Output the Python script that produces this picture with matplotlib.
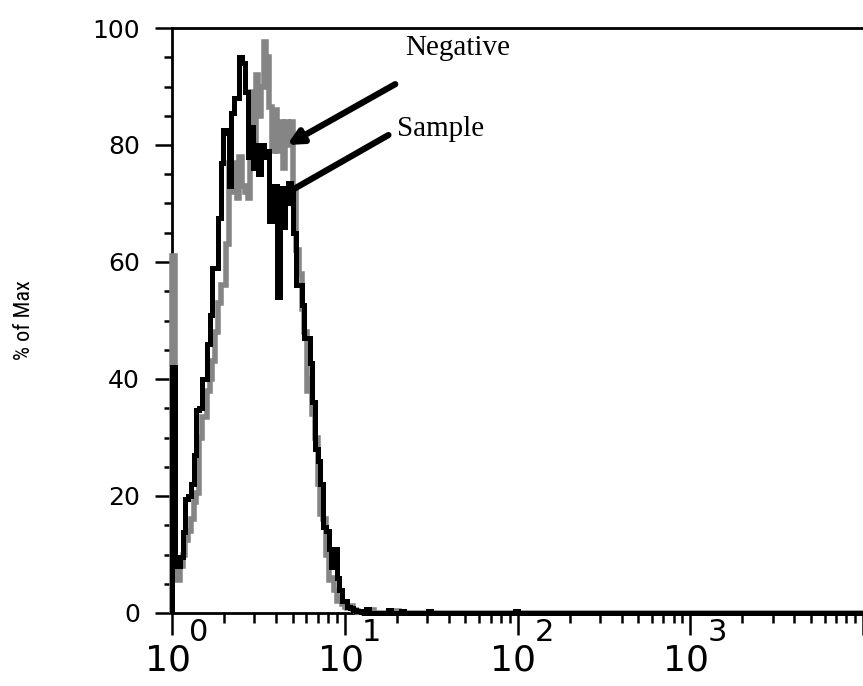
import matplotlib
matplotlib.use("Agg")
import matplotlib.pyplot as plt
import numpy as np
from matplotlib.ticker import FixedLocator, NullFormatter
from matplotlib import font_manager

# FACS-style channel scale: 256 channels over 4 decades
n_channels = 256
channels_per_decade = 64

# % of max per channel, starting at channel 0
sample_pct = [42, 9, 8, 9.5, 13.8, 19.5, 20, 22, 27, 34.7, 35, 40, 40, 46, 51, 59, 59,
              67.5, 77, 82.6, 82, 73, 85.5, 88, 88, 95, 94, 89, 78, 83, 76, 80, 75, 80,
              78, 79, 67, 73, 73, 54, 72.6, 66, 70, 73.5, 72, 65, 56, 56, 52.6, 47, 47,
              42.7, 36, 28, 26, 22, 14.7, 14, 11, 7.8, 11, 6, 4, 2, 2, 1, 0.8, 0.5,
              0.3, 0.3, 0.2]
negative_pct = [61, 7, 5.6, 8, 10, 12.5, 14, 16, 19, 20.5, 30, 33.5, 33.5, 38, 40, 43,
                48, 53, 56, 56, 63, 77, 72, 77, 71, 78, 73, 72, 71, 89, 78, 92, 85, 90,
                97.6, 95, 86.5, 79, 86, 79, 84, 76, 84, 80, 84, 72, 62, 58, 52, 48, 38,
                40, 34, 30, 22, 17, 16, 10, 5.6, 6, 4, 2, 2.5, 1.5, 1, 0.8, 1.2, 0.5,
                0.3, 0.2, 0.2]
# small isolated events further out
sample_tail_ch = [72, 80, 85, 95, 127]
sample_tail_pct = [0.6, 0.5, 0.4, 0.4, 0.4]
negative_tail_ch = [74, 83]
negative_tail_pct = [0.5, 0.4]

y_ticks = [0, 20, 40, 60, 80, 100]
x_decades = [0, 1, 2, 3]


def full(vals, tail_ch, tail_vals):
    arr = np.zeros(n_channels)
    arr[:len(vals)] = vals
    arr[tail_ch] = tail_vals
    return arr


edges = 10 ** (np.arange(n_channels + 1) / channels_per_decade)
sample = full(sample_pct, sample_tail_ch, sample_tail_pct)
negative = full(negative_pct, negative_tail_ch, negative_tail_pct)

# pick a condensed sans for the axis title if one is installed
names = {f.name for f in font_manager.fontManager.ttflist}
condensed = [n for n in ["Roboto Condensed", "Liberation Sans Narrow", "DejaVu Sans Condensed",
                         "Open Sans Condensed"] if n in names]
label_family = condensed[0] if condensed else "Liberation Sans"

fig = plt.figure(figsize=(8.63, 6.86), dpi=100)
ax = fig.add_axes([172 / 863, 1 - 613 / 686, 1 - 172 / 863, (613 - 28) / 686])

gray = ax.stairs(negative, edges, baseline=0, color="#858585", lw=4.0, clip_on=False, zorder=3)
black = ax.stairs(sample, edges, baseline=0, color="black", lw=3.6, clip_on=False, zorder=4)
for p in (gray, black):
    p.set_joinstyle("miter")
    p.set_capstyle("butt")

ax.set_xscale("log")
ax.set_xlim(1, 10 ** 4)
ax.set_ylim(0, 100)

for s in ["left", "top", "bottom"]:
    ax.spines[s].set_linewidth(2.0)
ax.spines["right"].set_visible(False)

ax.yaxis.set_major_locator(FixedLocator(y_ticks))
ax.yaxis.set_minor_locator(FixedLocator(np.arange(0, 101, 5)))
ax.tick_params(axis="y", which="major", direction="out", length=12, width=1.8, pad=11, labelsize=18)
ax.tick_params(axis="y", which="minor", direction="out", length=6, width=1.8)
for lab in ax.get_yticklabels():
    lab.set_family("DejaVu Sans")

major_x = [10 ** d for d in x_decades] + [10 ** 4]
minor_x = [m * 10 ** d for d in x_decades for m in range(2, 10)]
ax.xaxis.set_major_locator(FixedLocator(major_x))
ax.xaxis.set_minor_locator(FixedLocator(minor_x))
ax.xaxis.set_major_formatter(NullFormatter())
ax.xaxis.set_minor_formatter(NullFormatter())
ax.tick_params(axis="x", which="major", direction="out", length=16, width=1.8)
ax.tick_params(axis="x", which="minor", direction="out", length=7, width=1.8)

for d in x_decades:
    ax.annotate("10", xy=(10 ** d, 0), xycoords=("data", "axes fraction"),
                xytext=(13.5, -41.5), textcoords="offset points",
                ha="right", va="baseline", fontsize=26, family="DejaVu Sans",
                annotation_clip=False)
    ax.annotate(str(d), xy=(10 ** d, 0), xycoords=("data", "axes fraction"),
                xytext=(12.5, -20.5), textcoords="offset points",
                ha="left", va="baseline", fontsize=22, family="DejaVu Sans",
                annotation_clip=False)

fig.text(25 / 863, 1 - 320 / 686, "% of Max", rotation=90, ha="center", va="center",
         fontsize=16 if condensed else 14.5, family=label_family)

# annotations
ax.annotate("", xy=(4.64, 80), xytext=(19.6, 90.4),
            arrowprops=dict(arrowstyle="-|>", lw=4.5, color="black", mutation_scale=22,
                            shrinkA=0, shrinkB=0), zorder=6)
ax.annotate("", xy=(4.75, 72), xytext=(17.9, 81.7),
            arrowprops=dict(arrowstyle="-", lw=4.5, color="black",
                            shrinkA=0, shrinkB=0), zorder=6)
ax.text(22.4, 96.6, "Negative", ha="left", va="center", fontsize=21,
        family="Liberation Serif", zorder=7)
ax.text(20.2, 82.7, "Sample", ha="left", va="center", fontsize=21,
        family="Liberation Serif", zorder=7)

fig.savefig("out.png", dpi=100)
